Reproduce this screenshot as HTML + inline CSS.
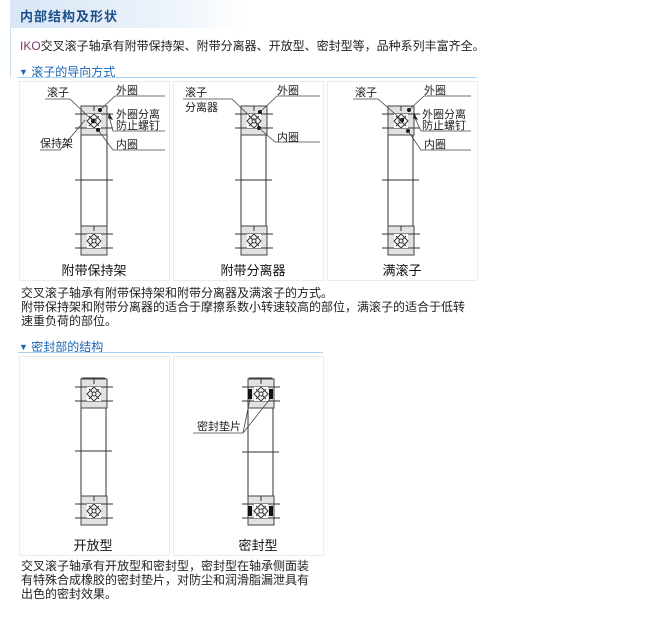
<!DOCTYPE html>
<html><head><meta charset="utf-8"><style>
body{margin:0;background:#fff;width:671px;height:622px;overflow:hidden;position:relative;font-family:"Liberation Sans","Noto Sans CJK SC",sans-serif;}
.t{position:absolute;font-size:12px;color:#222;line-height:14px;white-space:nowrap}
.h{position:absolute;font-size:12px;color:#1a63b5;white-space:nowrap}
.h b{font-size:9px;font-weight:normal;position:relative;top:-1px}
.box{position:absolute;border:1px solid #e6edf3;background:#fff}
</style></head><body>
<div style="position:absolute;left:10px;top:0;width:240px;height:28px;background:linear-gradient(90deg,#d8e6f5,#eaf2fb 60%,#fff);"></div>
<div style="position:absolute;left:10px;top:28px;width:1px;height:50px;background:#cfe0f0"></div>
<div style="position:absolute;left:20px;top:6px;font-size:13px;font-weight:bold;color:#1d4f8a;letter-spacing:1px">内部结构及形状</div>
<div class="t" style="left:20px;top:39px"><span style="color:#7a3a6a">IKO</span>交叉滚子轴承有附带保持架、附带分离器、开放型、密封型等，品种系列丰富齐全。</div>
<div class="h" style="left:19px;top:63px"><b>▼</b> 滚子的导向方式</div>
<div style="position:absolute;left:18px;top:77px;width:459px;height:1px;background:#a9d1f2"></div>
<div class="box" style="left:19px;top:81px;width:149px;height:198px"></div>
<div class="box" style="left:173px;top:81px;width:149px;height:198px"></div>
<div class="box" style="left:327px;top:81px;width:149px;height:198px"></div>
<div class="t" style="left:21px;top:286px">交叉滚子轴承有附带保持架和附带分离器及满滚子的方式。<br>附带保持架和附带分离器的适合于摩擦系数小转速较高的部位，满滚子的适合于低转<br>速重负荷的部位。</div>
<div class="h" style="left:19px;top:338px"><b>▼</b> 密封部的结构</div>
<div style="position:absolute;left:18px;top:352px;width:305px;height:1px;background:#a9d1f2"></div>
<div class="box" style="left:19px;top:356px;width:149px;height:198px"></div>
<div class="box" style="left:173px;top:356px;width:149px;height:198px"></div>
<div class="t" style="left:21px;top:559px">交叉滚子轴承有开放型和密封型，密封型在轴承侧面装<br>有特殊合成橡胶的密封垫片，对防尘和润滑脂漏泄具有<br>出色的密封效果。</div>

<svg width="671" height="622" style="position:absolute;left:0;top:0" font-family="Liberation Sans, Noto Sans CJK SC, sans-serif" font-size="11" fill="#222">
<defs>
<g id="blk">
<rect x="0" y="0" width="26" height="29" fill="#e2e2e2" stroke="#444" stroke-width="1"/>
<line x1="-6" y1="8" x2="32" y2="8" stroke="#333"/>
<line x1="-6" y1="22" x2="32" y2="22" stroke="#333"/>
<line x1="13" y1="0" x2="13" y2="5" stroke="#333"/>
<rect x="6" y="8" width="14" height="14" fill="#fff"/>
<polygon points="13,8 20,15 13,22 6,15" fill="#fff" stroke="#333"/>
<line x1="8" y1="10" x2="18" y2="20" stroke="#333"/>
<line x1="18" y1="10" x2="8" y2="20" stroke="#333"/>
<circle cx="13" cy="15" r="2" fill="#fff" stroke="#333"/>
</g>
</defs>
<g stroke="#333" fill="none">
<rect x="81" y="106" width="26" height="149" rx="2" fill="#fff"/>
<line x1="75" y1="180" x2="113" y2="180"/>
<rect x="241" y="106" width="25" height="149" rx="2" fill="#fff"/>
<line x1="235" y1="180" x2="272" y2="180"/>
<rect x="388" y="106" width="25" height="149" rx="2" fill="#fff"/>
<line x1="382" y1="180" x2="419" y2="180"/>
<rect x="81" y="378" width="25" height="147" rx="2" fill="#fff"/>
<line x1="75" y1="451" x2="112" y2="451"/>
<rect x="248" y="378" width="25" height="147" rx="2" fill="#fff"/>
<line x1="242" y1="452" x2="279" y2="452"/>
</g>
<use href="#blk" x="81" y="106"/><use href="#blk" x="81" y="226"/>
<use href="#blk" x="241" y="106"/><use href="#blk" x="241" y="226"/>
<use href="#blk" x="388" y="106"/><use href="#blk" x="388" y="226"/>
<use href="#blk" x="81" y="379"/><use href="#blk" x="81" y="496"/>
<use href="#blk" x="248" y="379"/><use href="#blk" x="248" y="496"/>
<g fill="#111">
<rect x="248" y="389" width="4" height="10"/><rect x="269" y="389" width="4" height="10"/>
<rect x="248" y="506" width="4" height="10"/><rect x="269" y="506" width="4" height="10"/>
<circle cx="100" cy="110" r="2"/><circle cx="98" cy="130" r="2"/><circle cx="93" cy="121" r="2"/>
<circle cx="260" cy="112" r="2"/><circle cx="259" cy="128" r="2"/>
<circle cx="409" cy="110" r="2"/><circle cx="408" cy="131" r="2"/><circle cx="402" cy="120" r="2"/>
<polygon points="109,113 113,120 108,118"/><polygon points="414,113 418,120 413,118"/>
</g>
<g stroke="#444" fill="none" stroke-width="0.8">
<polyline points="45,99 70,99 93,121"/>
<polyline points="165,96 115,96 100,110"/>
<polyline points="165,131 113,131 109,116"/>
<polyline points="40,150 60,150 85,120"/>
<polyline points="165,150 113,150 98,130"/>
<polyline points="183,99 232,99 259,125"/>
<polyline points="320,96 277,96 260,112"/>
<polyline points="320,142 275,142 259,128"/>
<polyline points="353,99 378,99 402,120"/>
<polyline points="471,96 424,96 409,110"/>
<polyline points="471,131 421,131 414,116"/>
<polyline points="471,150 421,150 408,131"/>
<polyline points="193,433 243,433 250,399"/>
<line x1="243" y1="433" x2="270" y2="399"/>
</g>
<text x="47" y="96">滚子</text><text x="116" y="94">外圈</text>
<text x="116" y="118">外圈分离</text><text x="116" y="129">防止螺钉</text>
<text x="40" y="147">保持架</text><text x="116" y="148">内圈</text>
<text x="185" y="96">滚子</text><text x="185" y="111">分离器</text>
<text x="277" y="94">外圈</text><text x="277" y="141">内圈</text>
<text x="355" y="96">滚子</text><text x="424" y="94">外圈</text>
<text x="422" y="118">外圈分离</text><text x="422" y="129">防止螺钉</text>
<text x="424" y="148">内圈</text>
<text x="197" y="430">密封垫片</text>
<g font-size="13" text-anchor="middle" fill="#111">
<text x="94" y="275">附带保持架</text><text x="253" y="275">附带分离器</text><text x="402" y="275">满滚子</text>
<text x="93" y="550">开放型</text><text x="258" y="550">密封型</text>
</g>
</svg>
</body></html>
